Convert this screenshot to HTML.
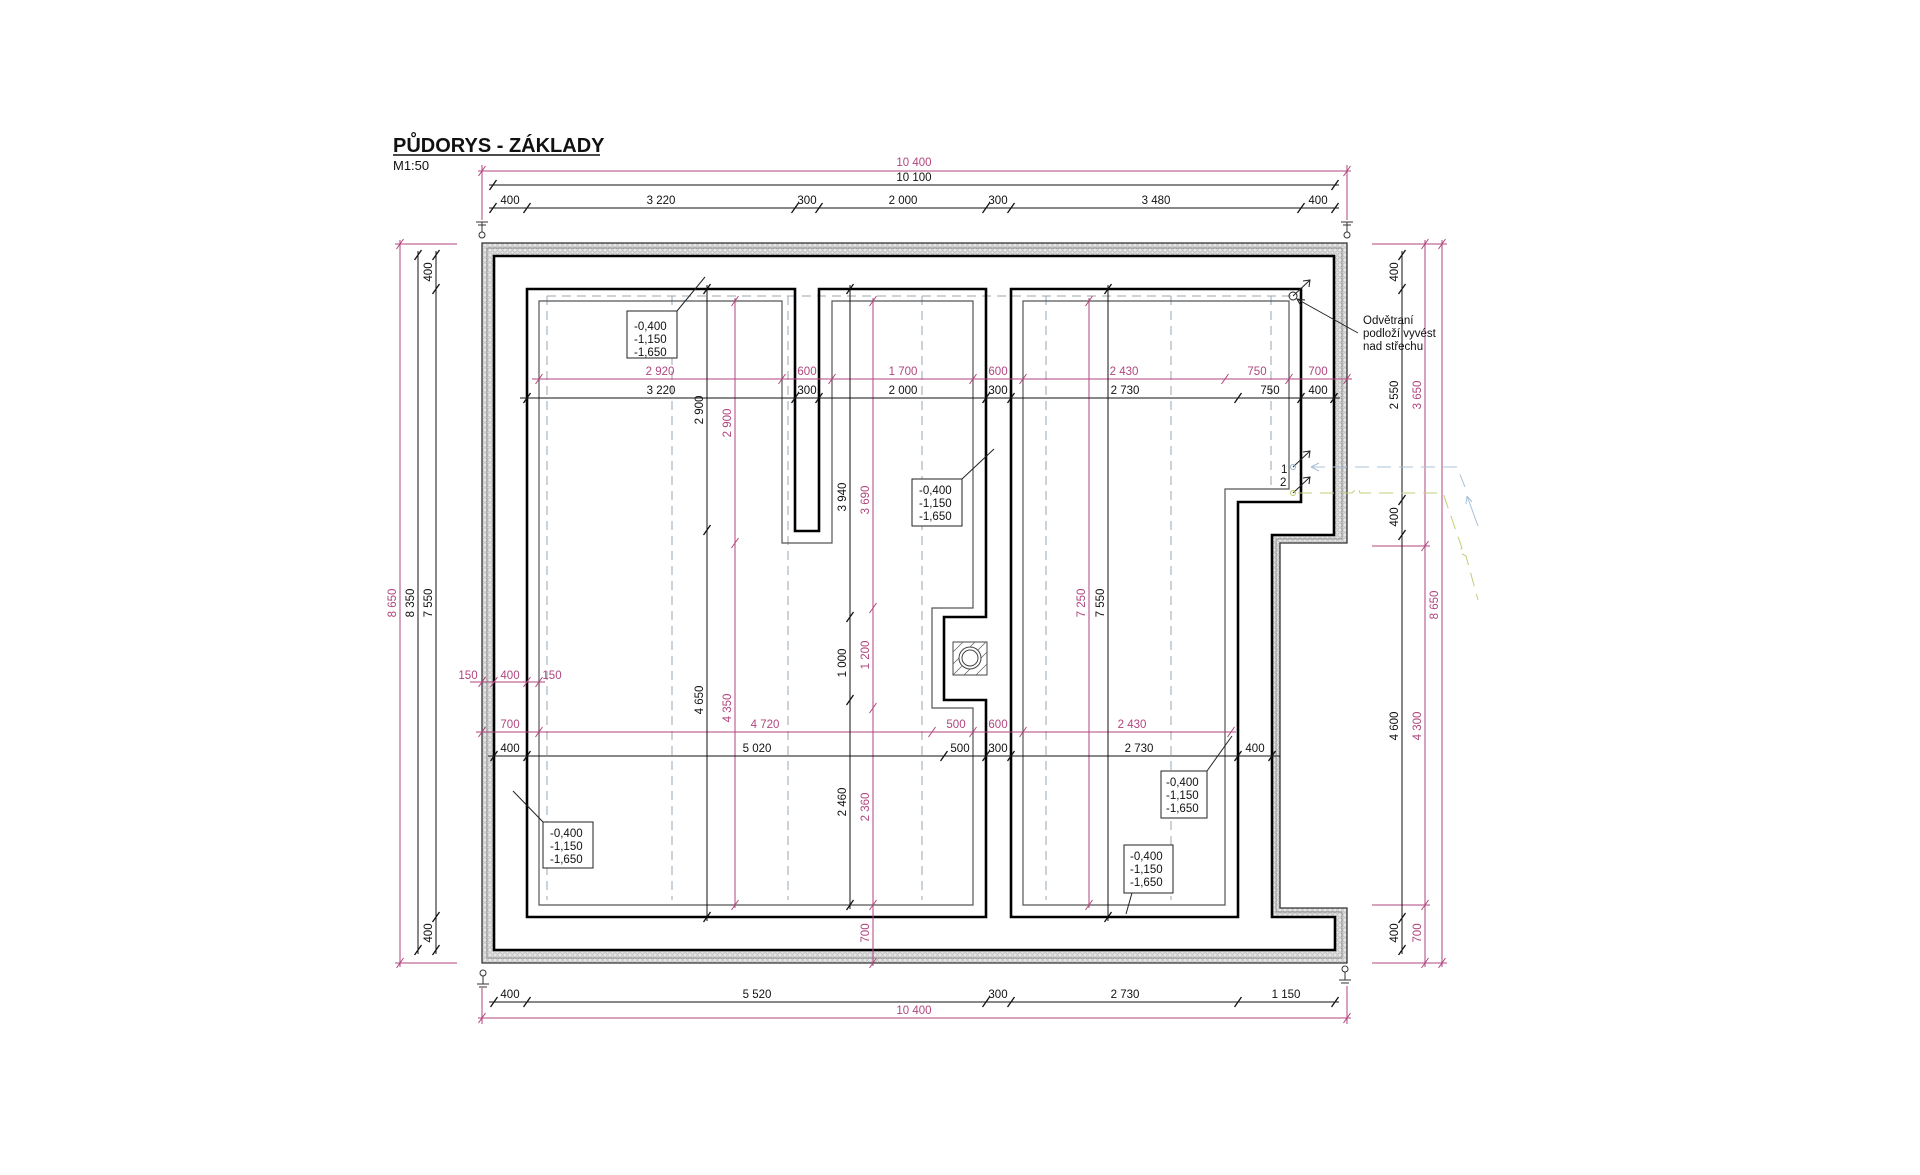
<!DOCTYPE html>
<html><head><meta charset="utf-8"><style>
html,body{margin:0;padding:0;background:#fff;}
svg{display:block}
text{font-family:"Liberation Sans",Arial,sans-serif;font-size:11.5px;}
.k{fill:#111}.m{fill:#b0467e}
.v{text-anchor:middle}
</style></head><body>
<svg width="1920" height="1175" viewBox="0 0 1920 1175" xmlns="http://www.w3.org/2000/svg">
<defs>
<pattern id="ins" width="5" height="5" patternUnits="userSpaceOnUse">
<rect width="5" height="5" fill="#e6e6e6"/><circle cx="2.5" cy="2.5" r="1.7" fill="none" stroke="#aaa" stroke-width="0.6"/>
</pattern>
<path id="tk" d="M-3.5,5 L3.5,-5" stroke="#111" stroke-width="1.3"/>
<path id="tm" d="M-3.5,5 L3.5,-5" stroke="#b0467e" stroke-width="1"/>
</defs>

<!-- title -->
<text x="393" y="152" style="font-size:20px;font-weight:bold" class="k">PŮDORYS - ZÁKLADY</text>
<line x1="393" y1="155" x2="600" y2="155" stroke="#111" stroke-width="1.6"/>
<text x="393" y="170" style="font-size:13px" class="k">M1:50</text>

<!-- insulation band -->
<path fill-rule="evenodd" fill="url(#ins)" d="M482,243 H1347 V543 H1280 V908 H1347 V963 H482 Z M494,256 H1334 V535 H1272 V917 H1335 V950 H494 Z"/>
<path d="M482,243 H1347 V543 H1280 V908 H1347 V963 H482 Z" fill="none" stroke="#333" stroke-width="1.3"/>
<path d="M487,248 H1342 V539 H1276 V912 H1342 V958 H487 Z" fill="none" stroke="#777" stroke-width="0.7"/>
<path d="M494,256 H1334 V535 H1272 V917 H1335 V950 H494 Z" fill="none" stroke="#000" stroke-width="2.6"/>

<!-- dashed lines -->
<g stroke="#9aa7b0" stroke-width="1" stroke-dasharray="9,6" fill="none">
<line x1="547" y1="296" x2="1292" y2="296"/>
<line x1="547" y1="296" x2="547" y2="900"/>
<line x1="672" y1="296" x2="672" y2="900"/>
<line x1="788" y1="296" x2="788" y2="900"/>
<line x1="922" y1="296" x2="922" y2="900"/>
<line x1="1046" y1="296" x2="1046" y2="900"/>
<line x1="1171" y1="296" x2="1171" y2="900"/>
<line x1="1271" y1="296" x2="1271" y2="490"/>
</g>

<!-- rooms -->
<path d="M527,289 H795 V531 H819 V289 H986 V617 H944 V700 H986 V917 H527 Z" fill="none" stroke="#000" stroke-width="2.6"/>
<path d="M539,301 H782 V543 H832 V301 H973 V608 H932 V708 H973 V905 H539 Z" fill="none" stroke="#555" stroke-width="1.2"/>
<path d="M1011,289 H1301 V502 H1238 V917 H1011 Z" fill="none" stroke="#000" stroke-width="2.6"/>
<path d="M1023,301 H1289 V489 H1225 V905 H1023 Z" fill="none" stroke="#555" stroke-width="1.2"/>

<!-- chimney -->
<rect x="953" y="642" width="34" height="33" fill="#fff" stroke="#444" stroke-width="1"/>
<g stroke="#666" stroke-width="0.8">
<line x1="953" y1="652" x2="963" y2="642"/><line x1="953" y1="664" x2="975" y2="642"/><line x1="953" y1="675" x2="986" y2="642"/>
<line x1="964" y1="675" x2="987" y2="652"/><line x1="976" y1="675" x2="987" y2="664"/>
</g>
<circle cx="970" cy="658" r="11" fill="#fff" stroke="#444" stroke-width="1"/>
<circle cx="970" cy="658" r="8" fill="#fff" stroke="#444" stroke-width="1"/>

<!-- ground symbols -->
<g stroke="#333" stroke-width="1" fill="none">
<line x1="482" y1="222" x2="482" y2="232"/><line x1="476" y1="222" x2="488" y2="222"/><line x1="478" y1="225" x2="486" y2="225"/><circle cx="482" cy="235" r="3"/>
<line x1="1347" y1="222" x2="1347" y2="232"/><line x1="1341" y1="222" x2="1353" y2="222"/><line x1="1343" y1="225" x2="1351" y2="225"/><circle cx="1347" cy="235" r="3"/>
<circle cx="483" cy="973" r="3"/><line x1="483" y1="976" x2="483" y2="984"/><line x1="477" y1="984" x2="489" y2="984"/><line x1="479" y1="987" x2="487" y2="987"/>
<circle cx="1345" cy="969" r="3"/><line x1="1345" y1="972" x2="1345" y2="980"/><line x1="1339" y1="980" x2="1351" y2="980"/><line x1="1341" y1="983" x2="1349" y2="983"/>
</g>

<!-- dimension lines -->
<g stroke="#b0467e" stroke-width="1" fill="none">
<line x1="478" y1="171" x2="1351" y2="171"/>
<line x1="482" y1="165" x2="482" y2="220"/><line x1="1347" y1="165" x2="1347" y2="220"/>
<line x1="532" y1="379" x2="1352" y2="379"/>
<line x1="470" y1="682" x2="545" y2="682"/>
<line x1="476" y1="732" x2="1236" y2="732"/>
<line x1="478" y1="1018" x2="1351" y2="1018"/>
<line x1="482" y1="988" x2="482" y2="1024"/><line x1="1347" y1="986" x2="1347" y2="1024"/>
<line x1="400" y1="240" x2="400" y2="967"/><line x1="395" y1="244" x2="457" y2="244"/><line x1="395" y1="963" x2="457" y2="963"/>
<line x1="735" y1="298" x2="735" y2="908"/>
<line x1="873" y1="298" x2="873" y2="966"/>
<line x1="1089" y1="298" x2="1089" y2="908"/>
<line x1="1425" y1="240" x2="1425" y2="967"/>
<line x1="1442" y1="240" x2="1442" y2="967"/>
<line x1="1372" y1="244" x2="1447" y2="244"/><line x1="1372" y1="546" x2="1430" y2="546"/>
<line x1="1372" y1="905" x2="1430" y2="905"/><line x1="1372" y1="963" x2="1447" y2="963"/>
</g>
<g stroke="#111" stroke-width="1" fill="none">
<line x1="489" y1="185" x2="1339" y2="185"/>
<line x1="489" y1="208" x2="1339" y2="208"/>
<line x1="520" y1="398" x2="1340" y2="398"/>
<line x1="488" y1="756" x2="1280" y2="756"/>
<line x1="489" y1="1002" x2="1339" y2="1002"/>
<line x1="418" y1="251" x2="418" y2="954"/>
<line x1="436" y1="251" x2="436" y2="954"/>
<line x1="707" y1="285" x2="707" y2="921"/>
<line x1="850" y1="285" x2="850" y2="909"/>
<line x1="1108" y1="285" x2="1108" y2="921"/>
<line x1="1402" y1="251" x2="1402" y2="954"/>
</g>

<!-- ticks magenta -->
<g>
<use href="#tm" x="482" y="171"/><use href="#tm" x="1347" y="171"/>
<use href="#tm" x="539" y="379"/><use href="#tm" x="782" y="379"/><use href="#tm" x="832" y="379"/><use href="#tm" x="973" y="379"/><use href="#tm" x="1023" y="379"/><use href="#tm" x="1225" y="379"/><use href="#tm" x="1289" y="379"/><use href="#tm" x="1347" y="379"/>
<use href="#tm" x="482" y="682"/><use href="#tm" x="494" y="682"/><use href="#tm" x="527" y="682"/><use href="#tm" x="539" y="682"/>
<use href="#tm" x="482" y="732"/><use href="#tm" x="539" y="732"/><use href="#tm" x="932" y="732"/><use href="#tm" x="973" y="732"/><use href="#tm" x="1023" y="732"/><use href="#tm" x="1231" y="732"/>
<use href="#tm" x="482" y="1018"/><use href="#tm" x="1347" y="1018"/>
<use href="#tm" x="400" y="244"/><use href="#tm" x="400" y="963"/>
<use href="#tm" x="735" y="301"/><use href="#tm" x="735" y="543"/><use href="#tm" x="735" y="905"/>
<use href="#tm" x="873" y="301"/><use href="#tm" x="873" y="608"/><use href="#tm" x="873" y="708"/><use href="#tm" x="873" y="905"/><use href="#tm" x="873" y="963"/>
<use href="#tm" x="1089" y="301"/><use href="#tm" x="1089" y="905"/>
<use href="#tm" x="1425" y="244"/><use href="#tm" x="1425" y="546"/><use href="#tm" x="1425" y="905"/><use href="#tm" x="1425" y="963"/>
<use href="#tm" x="1442" y="244"/><use href="#tm" x="1442" y="963"/>
</g>
<!-- ticks black -->
<g>
<use href="#tk" x="493" y="185"/><use href="#tk" x="1335" y="185"/>
<use href="#tk" x="493" y="208"/><use href="#tk" x="527" y="208"/><use href="#tk" x="795" y="208"/><use href="#tk" x="819" y="208"/><use href="#tk" x="986" y="208"/><use href="#tk" x="1011" y="208"/><use href="#tk" x="1301" y="208"/><use href="#tk" x="1335" y="208"/>
<use href="#tk" x="527" y="398"/><use href="#tk" x="795" y="398"/><use href="#tk" x="819" y="398"/><use href="#tk" x="986" y="398"/><use href="#tk" x="1011" y="398"/><use href="#tk" x="1238" y="398"/><use href="#tk" x="1301" y="398"/><use href="#tk" x="1334" y="398"/>
<use href="#tk" x="494" y="756"/><use href="#tk" x="527" y="756"/><use href="#tk" x="944" y="756"/><use href="#tk" x="986" y="756"/><use href="#tk" x="1011" y="756"/><use href="#tk" x="1238" y="756"/><use href="#tk" x="1272" y="756"/>
<use href="#tk" x="494" y="1002"/><use href="#tk" x="527" y="1002"/><use href="#tk" x="986" y="1002"/><use href="#tk" x="1011" y="1002"/><use href="#tk" x="1238" y="1002"/><use href="#tk" x="1335" y="1002"/>
<use href="#tk" x="418" y="255"/><use href="#tk" x="418" y="950"/>
<use href="#tk" x="436" y="255"/><use href="#tk" x="436" y="289"/><use href="#tk" x="436" y="917"/><use href="#tk" x="436" y="950"/>
<use href="#tk" x="707" y="289"/><use href="#tk" x="707" y="530"/><use href="#tk" x="707" y="917"/>
<use href="#tk" x="850" y="289"/><use href="#tk" x="850" y="617"/><use href="#tk" x="850" y="700"/><use href="#tk" x="850" y="905"/>
<use href="#tk" x="1108" y="289"/><use href="#tk" x="1108" y="917"/>
<use href="#tk" x="1402" y="255"/><use href="#tk" x="1402" y="289"/><use href="#tk" x="1402" y="500"/><use href="#tk" x="1402" y="535"/><use href="#tk" x="1402" y="918"/><use href="#tk" x="1402" y="950"/>
</g>

<!-- horizontal labels -->
<g class="v">
<text class="m" x="914" y="166">10 400</text>
<text class="k" x="914" y="181">10 100</text>
<text class="k" x="510" y="204">400</text><text class="k" x="661" y="204">3 220</text><text class="k" x="807" y="204">300</text><text class="k" x="903" y="204">2 000</text><text class="k" x="998" y="204">300</text><text class="k" x="1156" y="204">3 480</text><text class="k" x="1318" y="204">400</text>
<text class="m" x="660" y="375">2 920</text><text class="m" x="807" y="375">600</text><text class="m" x="903" y="375">1 700</text><text class="m" x="998" y="375">600</text><text class="m" x="1124" y="375">2 430</text><text class="m" x="1257" y="375">750</text><text class="m" x="1318" y="375">700</text>
<text class="k" x="661" y="394">3 220</text><text class="k" x="807" y="394">300</text><text class="k" x="903" y="394">2 000</text><text class="k" x="998" y="394">300</text><text class="k" x="1125" y="394">2 730</text><text class="k" x="1270" y="394">750</text><text class="k" x="1318" y="394">400</text>
<text class="m" x="468" y="679">150</text><text class="m" x="510" y="679">400</text><text class="m" x="552" y="679">150</text>
<text class="m" x="510" y="728">700</text><text class="m" x="765" y="728">4 720</text><text class="m" x="956" y="728">500</text><text class="m" x="998" y="728">600</text><text class="m" x="1132" y="728">2 430</text>
<text class="k" x="510" y="752">400</text><text class="k" x="757" y="752">5 020</text><text class="k" x="960" y="752">500</text><text class="k" x="998" y="752">300</text><text class="k" x="1139" y="752">2 730</text><text class="k" x="1255" y="752">400</text>
<text class="k" x="510" y="998">400</text><text class="k" x="757" y="998">5 520</text><text class="k" x="998" y="998">300</text><text class="k" x="1125" y="998">2 730</text><text class="k" x="1286" y="998">1 150</text>
<text class="m" x="914" y="1014">10 400</text>
</g>

<!-- vertical labels -->
<g class="v">
<text class="m" transform="translate(396,603) rotate(-90)">8 650</text>
<text class="k" transform="translate(414,603) rotate(-90)">8 350</text>
<text class="k" transform="translate(432,272) rotate(-90)">400</text>
<text class="k" transform="translate(432,603) rotate(-90)">7 550</text>
<text class="k" transform="translate(432,933) rotate(-90)">400</text>
<text class="k" transform="translate(703,410) rotate(-90)">2 900</text>
<text class="k" transform="translate(703,700) rotate(-90)">4 650</text>
<text class="m" transform="translate(731,423) rotate(-90)">2 900</text>
<text class="m" transform="translate(731,708) rotate(-90)">4 350</text>
<text class="k" transform="translate(846,497) rotate(-90)">3 940</text>
<text class="k" transform="translate(846,663) rotate(-90)">1 000</text>
<text class="k" transform="translate(846,802) rotate(-90)">2 460</text>
<text class="m" transform="translate(869,500) rotate(-90)">3 690</text>
<text class="m" transform="translate(869,655) rotate(-90)">1 200</text>
<text class="m" transform="translate(869,807) rotate(-90)">2 360</text>
<text class="m" transform="translate(869,933) rotate(-90)">700</text>
<text class="m" transform="translate(1085,603) rotate(-90)">7 250</text>
<text class="k" transform="translate(1104,603) rotate(-90)">7 550</text>
<text class="k" transform="translate(1398,272) rotate(-90)">400</text>
<text class="k" transform="translate(1398,395) rotate(-90)">2 550</text>
<text class="k" transform="translate(1398,517) rotate(-90)">400</text>
<text class="k" transform="translate(1398,726) rotate(-90)">4 600</text>
<text class="k" transform="translate(1398,933) rotate(-90)">400</text>
<text class="m" transform="translate(1421,395) rotate(-90)">3 650</text>
<text class="m" transform="translate(1421,726) rotate(-90)">4 300</text>
<text class="m" transform="translate(1421,933) rotate(-90)">700</text>
<text class="m" transform="translate(1438,605) rotate(-90)">8 650</text>
</g>

<!-- level boxes -->
<g stroke="#222" stroke-width="1" fill="#fff">
<line x1="677" y1="311" x2="705" y2="277"/>
<rect x="627" y="311" width="50" height="47"/>
<line x1="962" y1="479" x2="994" y2="449"/>
<rect x="912" y="479" width="50" height="47"/>
<line x1="543" y1="822" x2="513" y2="791"/>
<rect x="543" y="822" width="50" height="46"/>
<line x1="1207" y1="771" x2="1232" y2="736"/>
<rect x="1161" y="771" width="46" height="47"/>
<line x1="1132" y1="893" x2="1126" y2="914"/>
<rect x="1124" y="845" width="49" height="48"/>
</g>
<g class="k" style="font-size:11px">
<text x="634" y="330">-0,400</text><text x="634" y="343">-1,150</text><text x="634" y="356">-1,650</text>
<text x="919" y="494">-0,400</text><text x="919" y="507">-1,150</text><text x="919" y="520">-1,650</text>
<text x="550" y="837">-0,400</text><text x="550" y="850">-1,150</text><text x="550" y="863">-1,650</text>
<text x="1166" y="786">-0,400</text><text x="1166" y="799">-1,150</text><text x="1166" y="812">-1,650</text>
<text x="1130" y="860">-0,400</text><text x="1130" y="873">-1,150</text><text x="1130" y="886">-1,650</text>
</g>

<!-- ventilation -->
<g stroke="#222" stroke-width="1" fill="none">
<circle cx="1293" cy="296" r="4"/>
<line x1="1293" y1="296" x2="1310" y2="280"/><path d="M1303,281 L1310,280 L1309,287"/>
<line x1="1358" y1="333" x2="1297" y2="299"/><path d="M1305,300 L1297,299 L1301,306"/>
<line x1="1293" y1="467" x2="1310" y2="451"/><path d="M1303,452 L1310,451 L1309,458"/>
<line x1="1293" y1="493" x2="1310" y2="477"/><path d="M1303,478 L1310,477 L1309,484"/>
</g>
<circle cx="1293" cy="467" r="2.5" fill="none" stroke="#9bb3c8"/>
<circle cx="1293" cy="493" r="2.5" fill="none" stroke="#bcc86a"/>
<g class="k" style="font-size:11.5px">
<text x="1363" y="324">Odvětraní</text><text x="1363" y="337">podloží vyvést</text><text x="1363" y="350">nad střechu</text>
<text x="1281" y="473">1</text><text x="1280" y="486">2</text>
</g>
<g fill="none" stroke-width="1">
<path d="M1311,467 H1457 L1465,487" stroke="#a9c0d6" stroke-dasharray="14,8"/>
<path d="M1311,467 l8,-4 M1311,467 l8,4" stroke="#a9c0d6"/>
<path d="M1467,496 L1478,526 M1467,496 l-1,8 M1467,496 l5,6" stroke="#a9c0d6"/>
<path d="M1298,493 H1352 L1358,487 L1360,493 H1443 L1455,528 L1462,548 L1458,552 L1466,556 L1478,600" stroke="#c3cd78" stroke-dasharray="14,8"/>
</g>
</svg>
</body></html>
